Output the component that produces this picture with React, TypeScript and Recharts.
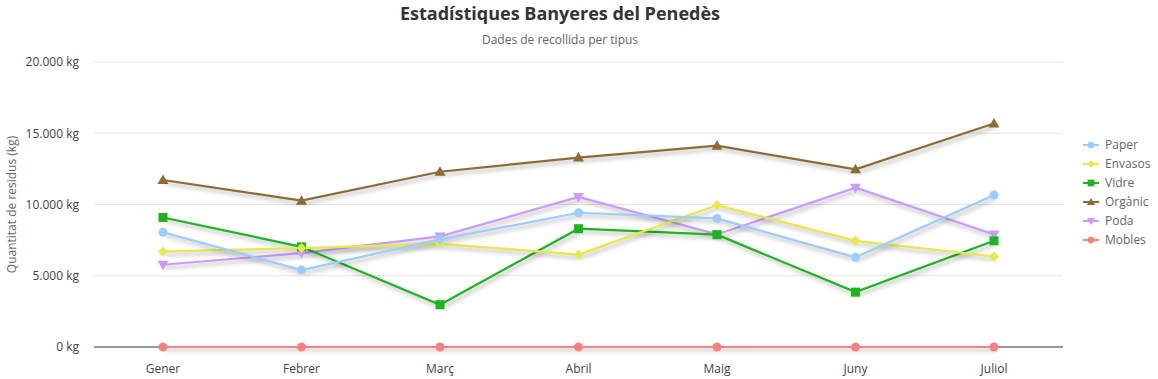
import { LineChart, Line, XAxis, YAxis, CartesianGrid, Legend } from 'recharts';

const months = ['Gener', 'Febrer', 'Març', 'Abril', 'Maig', 'Juny', 'Juliol'];
const paper = [8050, 5400, 7550, 9420, 9020, 6300, 10670];
const envasos = [6700, 6940, 7240, 6490, 9960, 7450, 6350];
const vidre = [9090, 7030, 2970, 8300, 7880, 3850, 7450];
const organic = [11720, 10270, 12300, 13290, 14130, 12470, 15680];
const poda = [5770, 6590, 7760, 10530, 7900, 11180, 7900];
const mobles = [0, 0, 0, 0, 0, 0, 0];
const yTicks = [0, 5000, 10000, 15000, 20000];

type Shape = 'circle' | 'diamond' | 'square' | 'triangle' | 'triangleDown';

const series: { key: string; name: string; color: string; shape: Shape; values: number[] }[] = [
  { key: 'paper', name: 'Paper', color: '#9dcdfa', shape: 'circle', values: paper },
  { key: 'envasos', name: 'Envasos', color: '#e8e84a', shape: 'diamond', values: envasos },
  { key: 'vidre', name: 'Vidre', color: '#1db41d', shape: 'square', values: vidre },
  { key: 'organic', name: 'Orgànic', color: '#8c6b36', shape: 'triangle', values: organic },
  { key: 'poda', name: 'Poda', color: '#c99bfa', shape: 'triangleDown', values: poda },
  { key: 'mobles', name: 'Mobles', color: '#fb8080', shape: 'circle', values: mobles },
];

const data = months.map((m, i) => {
  const row: Record<string, string | number> = { month: m };
  series.forEach(s => { row[s.key] = s.values[i]; });
  return row;
});

const FONT = "'Open Sans', sans-serif";

function formatKg(v: number) {
  return `${String(v).replace(/\B(?=(\d{3})+(?!\d))/g, '.')} kg`;
}

function Marker({ shape, color, cx, cy, size = 1 }: { shape: Shape; color: string; cx: number; cy: number; size?: number }) {
  const s = size;
  if (shape === 'circle') return <circle cx={cx} cy={cy} r={4.5 * s} fill={color} />;
  if (shape === 'square') return <rect x={cx - 4.5 * s} y={cy - 4.5 * s} width={9 * s} height={9 * s} fill={color} />;
  if (shape === 'diamond') {
    const d = 5 * s;
    return <polygon points={`${cx},${cy - d} ${cx + d},${cy} ${cx},${cy + d} ${cx - d},${cy}`} fill={color} />;
  }
  const w = 5.5 * s;
  if (shape === 'triangle') {
    return <polygon points={`${cx},${cy - 5.5 * s} ${cx + w},${cy + 4 * s} ${cx - w},${cy + 4 * s}`} fill={color} />;
  }
  return <polygon points={`${cx},${cy + 5.5 * s} ${cx + w},${cy - 4 * s} ${cx - w},${cy - 4 * s}`} fill={color} />;
}

function makeDot(shape: Shape, color: string) {
  return (props: any) => {
    const { cx, cy, index } = props;
    if (cx == null || cy == null) return <g key={index} />;
    return <Marker key={index} shape={shape} color={color} cx={cx} cy={cy} />;
  };
}

// grid line at 0 doubles as the dark x axis line, so the series stay drawn above it
function gridLine(props: any) {
  const { x1, y1, x2, y2, index } = props;
  const isBase = index === 0;
  return <line key={`h-${index}`} x1={x1} y1={y1} x2={x2} y2={y2} stroke={isBase ? '#333' : '#e5e5e5'} strokeWidth={1} />;
}

function LegendContent() {
  return (
    <div style={{ width: 95, paddingLeft: 20, boxSizing: 'border-box', fontFamily: FONT, fontSize: 12, color: '#666' }}>
      {series.map(s => (
        <div key={s.key} style={{ display: 'flex', alignItems: 'center', height: 19 }}>
          <svg width={16} height={10} style={{ marginRight: 6 }}>
            <line x1={0} y1={5} x2={16} y2={5} stroke={s.color} strokeWidth={2} />
            <Marker shape={s.shape} color={s.color} cx={8} cy={5} size={0.75} />
          </svg>
          <span>{s.name}</span>
        </div>
      ))}
    </div>
  );
}

export default function App() {
  return (
    <div style={{ position: 'relative', width: 1158, height: 379, fontFamily: FONT }}>
      <style>{`body{margin:0}.series-line{filter:drop-shadow(2px 3px 2px rgba(0,0,0,0.3))}`}</style>
      <div style={{ position: 'absolute', top: 2, left: 0, width: 1120, textAlign: 'center', fontSize: 18, fontWeight: 700, color: '#333', lineHeight: '22px' }}>
        Estadístiques Banyeres del Penedès
      </div>
      <div style={{ position: 'absolute', top: 31, left: 0, width: 1120, textAlign: 'center', fontSize: 12, color: '#666', lineHeight: '18px' }}>
        Dades de recollida per tipus
      </div>
      <LineChart width={1158} height={379} data={data} margin={{ top: 62, right: 0, bottom: 0, left: 0 }}>
        <CartesianGrid vertical={false} horizontal={gridLine} />
        <XAxis
          dataKey="month"
          padding={{ left: 69, right: 69 }}
          tickLine={false}
          axisLine={false}
          tickMargin={11}
          height={32}
          tick={{ fontSize: 12, fill: '#444', fontFamily: FONT }}
        />
        <YAxis
          width={94}
          domain={[0, 20000]}
          ticks={yTicks}
          tickFormatter={formatKg}
          tickLine={false}
          axisLine={false}
          tickMargin={9}
          tick={{ fontSize: 12, fill: '#444', fontFamily: FONT }}
          label={{
            content: ({ viewBox }: any) => {
              const cy = viewBox.y + viewBox.height / 2;
              return (
                <text x={11} y={cy} transform={`rotate(-90 11 ${cy})`} textAnchor="middle" dominantBaseline="central" fill="#666" fontSize={12} fontFamily={FONT}>
                  Quantitat de residus (kg)
                </text>
              );
            },
          }}
        />
        <Legend layout="vertical" align="right" verticalAlign="top" wrapperStyle={{ top: 135 }} content={<LegendContent />} />
        {[...series].reverse().map(s => (
          <Line
            key={s.key}
            className="series-line"
            dataKey={s.key}
            name={s.name}
            stroke={s.color}
            strokeWidth={2.2}
            dot={makeDot(s.shape, s.color)}
            activeDot={false}
            isAnimationActive={false}
          />
        ))}
      </LineChart>
    </div>
  );
}
